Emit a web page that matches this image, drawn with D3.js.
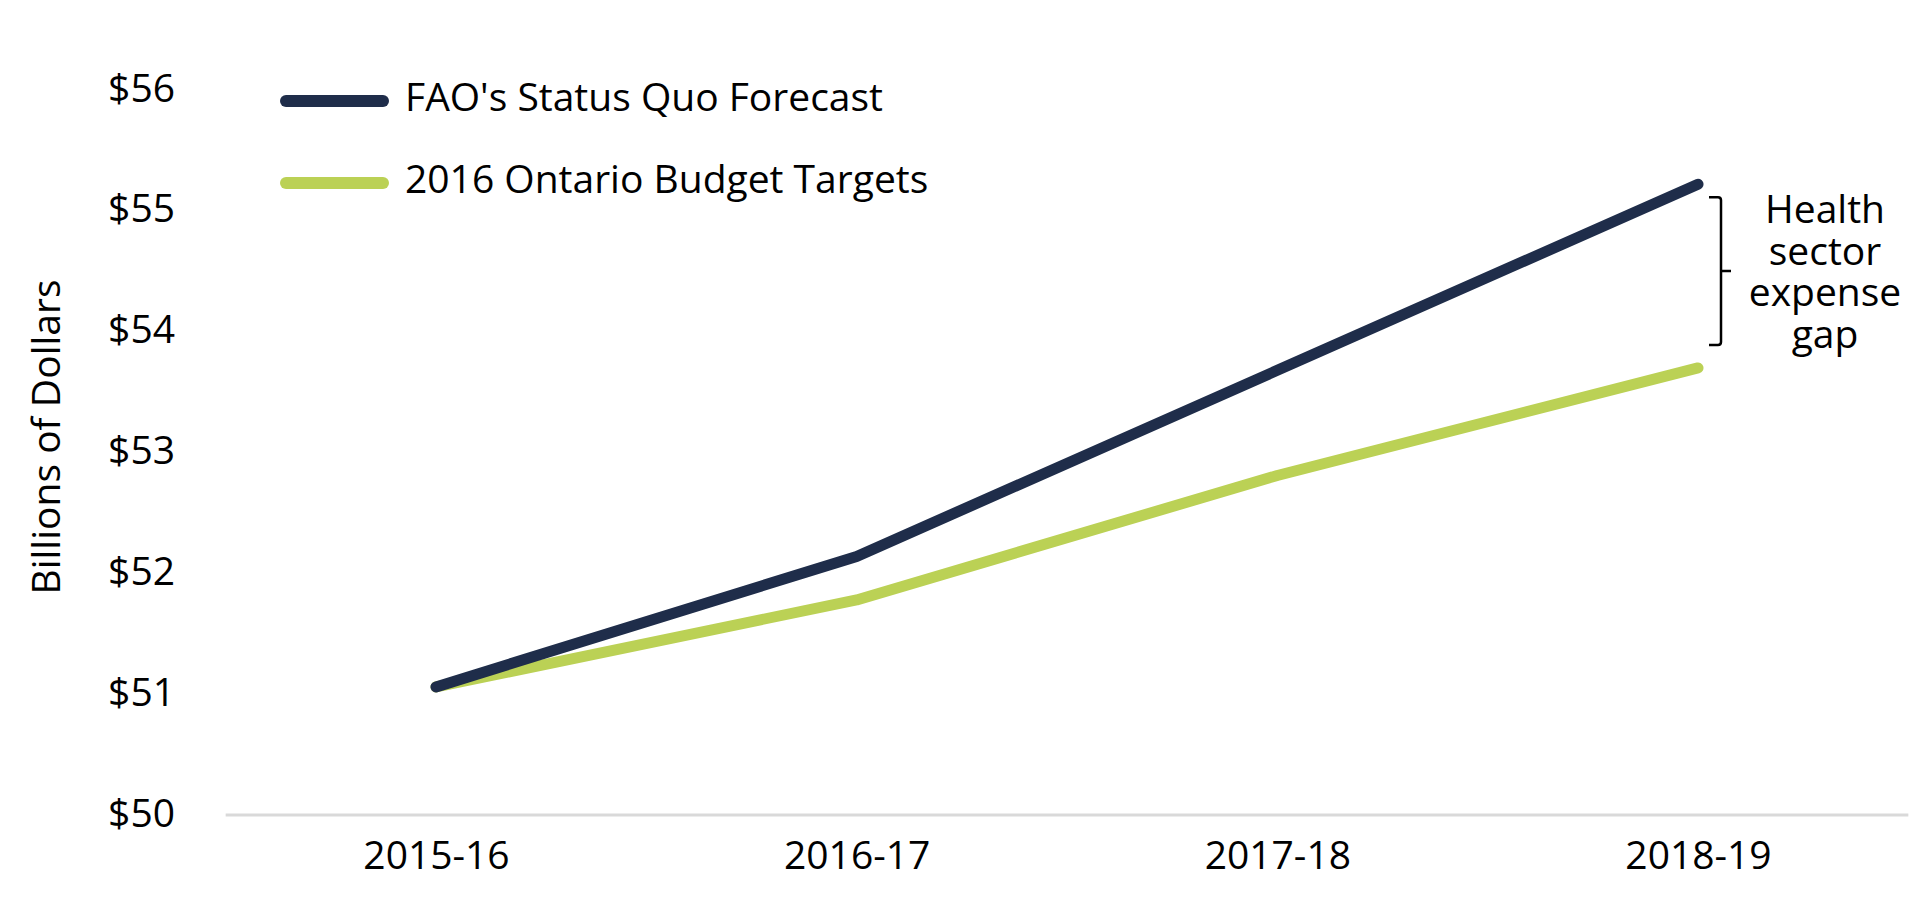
<!DOCTYPE html>
<html>
<head>
<meta charset="utf-8">
<script src="https://cdn.jsdelivr.net/npm/d3@7"></script>
<style>
  body { margin: 0; background: #ffffff; }
  text { font-family: "Open Sans", "Noto Sans", sans-serif; fill: #000000; }
</style>
</head>
<body>
<div id="chart"></div>
<script>
const width = 1932
const height = 916

// datos (miles de millones de dolares)
const years = ["2015-16", "2016-17", "2017-18", "2018-19"]
const faoForecast = [51.06, 52.14, 53.68, 55.22]
const budgetTargets = [51.06, 51.78, 52.81, 53.70]
const yTicks = [50, 51, 52, 53, 54, 55, 56]
const seriesNames = ["FAO's Status Quo Forecast", "2016 Ontario Budget Targets"]
const seriesColors = ["#1f2d4a", "#bbd155"]
const gapLabel = ["Health", "sector", "expense", "gap"]

const fontSize = 39

const svg = d3.select("#chart").append("svg")
    .attr("width", width)
    .attr("height", height)

const x = d3.scalePoint()
    .domain(years)
    .range([436, 1698])

const y = d3.scaleLinear()
    .domain([50, 56])
    .range([815, 90])

// linea base gris
const step = x.step()
svg.append("line")
    .attr("x1", x(years[0]) - step / 2)
    .attr("x2", x(years[years.length - 1]) + step / 2)
    .attr("y1", y(50))
    .attr("y2", y(50))
    .attr("stroke", "#d9d9d9")
    .attr("stroke-width", 3)

// eje x
const xAxis = svg.append("g")
    .attr("transform", `translate(0, ${y(50)})`)
    .call(d3.axisBottom(x).tickSize(0))
xAxis.select(".domain").remove()
xAxis.selectAll("text")
    .attr("dy", null)
    .attr("y", 54)
    .style("font-size", fontSize + "px")
    .style("font-family", "'Open Sans', sans-serif")

// eje y
const yAxis = svg.append("g")
    .attr("transform", "translate(175, 0)")
    .call(d3.axisLeft(y).tickValues(yTicks).tickFormat(d => "$" + d).tickSize(0).tickPadding(0))
yAxis.select(".domain").remove()
yAxis.selectAll("text")
    .attr("dy", null)
    .attr("y", 11)
    .style("font-size", fontSize + "px")
    .style("font-family", "'Open Sans', sans-serif")

svg.append("text")
    .attr("transform", "translate(60, 437) rotate(-90)")
    .attr("text-anchor", "middle")
    .style("font-size", fontSize + "px")
    .text("Billions of Dollars")

// lineas
const linea = d3.line()
    .x((d, i) => x(years[i]))
    .y(d => y(d))

const series = [budgetTargets, faoForecast]
const colors = [seriesColors[1], seriesColors[0]]

svg.selectAll(".serie")
    .data(series)
    .join("path")
    .attr("class", "serie")
    .attr("d", linea)
    .attr("fill", "none")
    .attr("stroke", (d, i) => colors[i])
    .attr("stroke-width", 11)
    .attr("stroke-linecap", "round")
    .attr("stroke-linejoin", "round")

// leyenda
const legend = svg.append("g")
const legendRows = [101, 183]
seriesNames.forEach((name, i) => {
    legend.append("line")
        .attr("x1", 286)
        .attr("x2", 383)
        .attr("y1", legendRows[i])
        .attr("y2", legendRows[i])
        .attr("stroke", seriesColors[i])
        .attr("stroke-width", 12)
        .attr("stroke-linecap", "round")
    legend.append("text")
        .attr("x", 405)
        .attr("y", legendRows[i] + 10)
        .style("font-size", fontSize + "px")
        .text(name)
})

// corchete de la brecha
const last = years[years.length - 1]
const bTop = y(faoForecast[3]) + 13
const bBottom = y(budgetTargets[3]) - 23
const bMid = (bTop + bBottom) / 2
const bx = x(last) + 23
svg.append("path")
    .attr("d", `M${bx - 12},${bTop} H${bx - 3} Q${bx},${bTop} ${bx},${bTop + 3} V${bMid} H${bx + 10} M${bx},${bMid} V${bBottom - 3} Q${bx},${bBottom} ${bx - 3},${bBottom} H${bx - 12}`)
    .attr("fill", "none")
    .attr("stroke", "#000000")
    .attr("stroke-width", 2.5)

// texto de la brecha en un solo bloque con tspans
svg.append("text")
    .attr("text-anchor", "middle")
    .attr("y", 223)
    .style("font-size", fontSize + "px")
    .selectAll("tspan")
    .data(gapLabel)
    .join("tspan")
    .attr("x", 1825)
    .attr("dy", (d, i) => i === 0 ? 0 : 41.7)
    .text(d => d)
</script>
</body>
</html>
